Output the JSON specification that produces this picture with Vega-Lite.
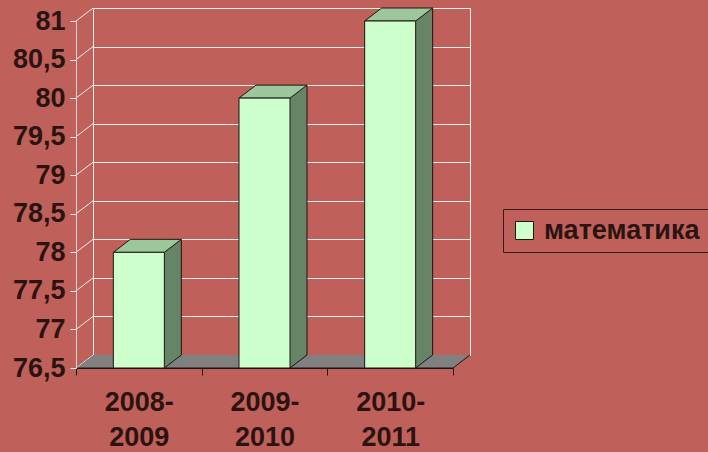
{
  "$schema": "https://vega.github.io/schema/vega-lite/v6.json",
  "width": 377,
  "height": 347,
  "autosize": "none",
  "padding": {"left": 93, "top": 8, "right": 238, "bottom": 97},
  "background": "#C0605A",
  "config": {
    "view": {"stroke": "#F0F0F0", "strokeWidth": 1},
    "font": "Liberation Sans",
    "axisX": {"offset": 13, "position": -17, "tickBand": "extent", "domainColor": "#1E1410", "tickColor": "#1E1410", "tickSize": 7, "labelFont": "Liberation Sans", "labelFontSize": 27, "labelFontWeight": "bold", "labelColor": "#2B1410", "labelPadding": 14, "labelLineHeight": 35, "labelAngle": 0, "labelExpr": "[slice(datum.label, 0, 5), slice(datum.label, 5)]", "grid": false, "zindex": 1}
  },
  "datasets": {
    "scores": [
      {"year": "2008-2009", "value": 78},
      {"year": "2009-2010", "value": 80},
      {"year": "2010-2011", "value": 81}
    ],
    "ticks": [
      {"tick": 76.5}, {"tick": 77}, {"tick": 77.5}, {"tick": 78}, {"tick": 78.5},
      {"tick": 79}, {"tick": 79.5}, {"tick": 80}, {"tick": 80.5}, {"tick": 81}
    ]
  },
  "resolve": {"axis": {"y": "independent"}},
  "layer": [
    {
      "data": {"name": "ticks"},
      "transform": [{"filter": "datum.tick == 76.5"}],
      "mark": {"type": "point", "shape": "M0,0L-17,13L360,13L377,0", "size": 4, "filled": true, "fill": "#808080", "stroke": "#1E1410", "strokeWidth": 1, "opacity": 1},
      "encoding": {
        "x": {"datum": "2008-2009", "type": "nominal", "bandPosition": 0, "title": null, "scale": {"type": "band", "paddingInner": 0, "paddingOuter": 0}},
        "y": {"field": "tick", "type": "quantitative", "scale": {"domain": [76.5, 81], "nice": false, "zero": false},
          "axis": {"orient": "left", "grid": true, "gridColor": "#EEEEEE", "gridOpacity": 1, "gridWidth": 1, "domain": false, "ticks": false, "labels": false, "title": null, "values": [76.5, 77, 77.5, 78, 78.5, 79, 79.5, 80, 80.5, 81]}}
      }
    },
    {
      "data": {"name": "ticks"},
      "mark": {"type": "point", "shape": "M0,0L-17,13", "size": 4, "filled": false, "stroke": "#EEEEEE", "strokeWidth": 1, "opacity": 1},
      "encoding": {
        "x": {"datum": "2008-2009", "type": "nominal", "bandPosition": 0, "title": null, "scale": {"type": "band", "paddingInner": 0, "paddingOuter": 0}},
        "y": {"field": "tick", "type": "quantitative", "scale": {"domain": [76.5, 81], "nice": false, "zero": false}, "axis": null}
      }
    },
    {
      "data": {"name": "scores"},
      "mark": {"type": "bar", "width": 17, "xOffset": 17, "y2Offset": 13, "fill": "#668466", "strokeWidth": 0},
      "encoding": {
        "x": {"field": "year", "type": "nominal", "title": null, "scale": {"type": "band", "paddingInner": 0, "paddingOuter": 0}},
        "y": {"field": "value", "type": "quantitative", "scale": {"domain": [76.5, 81], "nice": false, "zero": false}, "axis": null},
        "y2": {"datum": 76.5}
      }
    },
    {
      "data": {"name": "scores"},
      "mark": {"type": "point", "shape": "M25.5,0L8.5,13L25.5,13", "size": 4, "filled": true, "fill": "#808080", "stroke": "#1E1410", "strokeWidth": 1, "opacity": 1},
      "encoding": {
        "x": {"field": "year", "type": "nominal", "title": null, "scale": {"type": "band", "paddingInner": 0, "paddingOuter": 0}},
        "y": {"datum": 76.5, "type": "quantitative", "scale": {"domain": [76.5, 81], "nice": false, "zero": false}, "axis": null}
      }
    },
    {
      "data": {"name": "scores"},
      "mark": {"type": "rule", "xOffset": 25.5, "stroke": "#1E1410", "strokeWidth": 1},
      "encoding": {
        "x": {"field": "year", "type": "nominal", "title": null, "scale": {"type": "band", "paddingInner": 0, "paddingOuter": 0}},
        "y": {"field": "value", "type": "quantitative", "scale": {"domain": [76.5, 81], "nice": false, "zero": false}, "axis": null},
        "y2": {"datum": 76.5}
      }
    },
    {
      "data": {"name": "scores"},
      "mark": {"type": "point", "shape": "M-42.5,13L8.5,13L25.5,0L-25.5,0Z", "size": 4, "filled": true, "fill": "#9CC69C", "stroke": "#1E1410", "strokeWidth": 1, "opacity": 1},
      "encoding": {
        "x": {"field": "year", "type": "nominal", "title": null, "scale": {"type": "band", "paddingInner": 0, "paddingOuter": 0}},
        "y": {"field": "value", "type": "quantitative", "scale": {"domain": [76.5, 81], "nice": false, "zero": false}, "axis": null}
      }
    },
    {
      "data": {"name": "scores"},
      "mark": {"type": "bar", "width": 51, "xOffset": -17, "yOffset": 13, "y2Offset": 13, "stroke": "#1E1410", "strokeWidth": 1, "opacity": 1},
      "encoding": {
        "x": {"field": "year", "type": "nominal", "title": null, "scale": {"type": "band", "paddingInner": 0, "paddingOuter": 0}},
        "y": {"field": "value", "type": "quantitative", "scale": {"domain": [76.5, 81], "nice": false, "zero": false},
          "axis": {"orient": "left", "offset": 17, "position": 13, "values": [76.5, 77, 77.5, 78, 78.5, 79, 79.5, 80, 80.5, 81], "grid": false, "domainColor": "#D4D4D4", "tickColor": "#F0F0F0", "tickSize": 6, "labelFont": "Liberation Sans", "labelFontSize": 27, "labelFontWeight": "bold", "labelColor": "#2B1410", "labelPadding": 5, "labelOverlap": false, "labelExpr": "replace(toString(datum.value), '.', ',')", "title": null, "zindex": 1}},
        "y2": {"datum": 76.5},
        "color": {"datum": "математика", "type": "nominal", "scale": {"range": ["#CCFFCC"]},
          "legend": {"orient": "none", "legendX": 410, "legendY": 201, "title": null, "strokeColor": "#3A1A16", "padding": 8, "symbolType": "square", "symbolSize": 324, "symbolStrokeColor": "#1E1410", "symbolStrokeWidth": 1, "symbolOpacity": 1, "labelFont": "Liberation Sans", "labelFontSize": 27, "labelFontWeight": "bold", "labelColor": "#2B1410", "labelOffset": 6, "labelLimit": 400}}
      }
    }
  ]
}
